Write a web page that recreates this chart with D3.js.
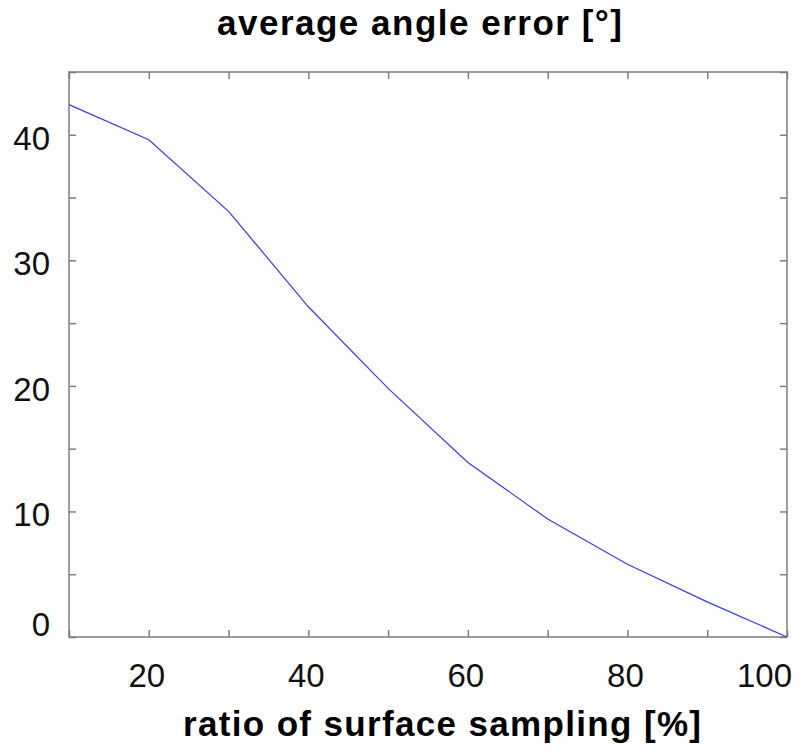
<!DOCTYPE html>
<html><head><meta charset="utf-8">
<script src="https://cdn.jsdelivr.net/npm/d3@7"></script>
<style>body{margin:0;background:#fff}</style>
</head><body>
<svg id="c" width="799" height="756"></svg>
<script>
const ratio = [10, 20, 30, 40, 50, 60, 70, 80, 90, 100];
const angleError = [42.4, 39.6, 33.9, 26.3, 19.8, 13.9, 9.4, 5.8, 2.8, 0.0];
const xTickValues = [10, 20, 30, 40, 50, 60, 70, 80, 90, 100];
const xTickLabels = [20, 40, 60, 80, 100];
const yTickValues = [0, 5, 10, 15, 20, 25, 30, 35, 40, 45];
const yTickLabels = [0, 10, 20, 30, 40];
const title = "average angle error [°]";
const xTitle = "ratio of surface sampling [%]";

const m = {l: 69, r: 12, t: 72, b: 119};
const W = 799, H = 756;
const svg = d3.select("#c");
const x = d3.scaleLinear().domain([10, 100]).range([m.l, W - m.r]);
const y = d3.scaleLinear().domain([0, 45]).range([H - m.b, m.t]);
const font = "'Liberation Sans', Arial, sans-serif";
const axisColor = "#7f7f7f";
const tk = 7;

function styleAxis(g) {
  g.select(".domain").remove();
  g.selectAll(".tick line").attr("stroke", axisColor).attr("stroke-width", 1.5);
  g.selectAll("text").remove();
}
svg.append("g").attr("transform", `translate(0,${y(0)})`)
  .call(d3.axisBottom(x).tickValues(xTickValues).tickSize(-tk)).call(styleAxis);
svg.append("g").attr("transform", `translate(0,${y(45)})`)
  .call(d3.axisTop(x).tickValues(xTickValues).tickSize(-tk)).call(styleAxis);
svg.append("g").attr("transform", `translate(${x(10)},0)`)
  .call(d3.axisLeft(y).tickValues(yTickValues).tickSize(-tk)).call(styleAxis);
svg.append("g").attr("transform", `translate(${x(100)},0)`)
  .call(d3.axisRight(y).tickValues(yTickValues).tickSize(-tk)).call(styleAxis);

svg.append("rect").attr("x", x(10)).attr("y", y(45))
  .attr("width", x(100) - x(10)).attr("height", y(0) - y(45))
  .attr("fill", "none").attr("stroke", axisColor).attr("stroke-width", 1.5);

// tick labels
svg.append("g").selectAll("text").data(xTickLabels).join("text")
  .attr("x", d => d === 100 ? x(d) + 5 : x(d) - 2)
  .attr("y", 687)
  .attr("text-anchor", d => d === 100 ? "end" : "middle")
  .attr("font-family", font).attr("font-size", 33).attr("fill", "#111")
  .text(d => d);
svg.append("g").selectAll("text").data(yTickLabels).join("text")
  .attr("x", 50)
  .attr("y", d => d === 0 ? 636 : y(d) + 15)
  .attr("text-anchor", "end")
  .attr("font-family", font).attr("font-size", 33).attr("fill", "#111")
  .text(d => d);

// line
svg.append("path").datum(ratio.map((r, i) => [r, angleError[i]]))
  .attr("fill", "none").attr("stroke", "#3a3aff").attr("stroke-width", 1.2)
  .attr("d", d3.line().x(d => x(d[0])).y(d => y(d[1])));

svg.append("text").attr("x", 217).attr("y", 35)
  .attr("textLength", 405).attr("lengthAdjust", "spacing")
  .attr("font-family", font).attr("font-weight", "bold").attr("font-size", 35)
  .attr("fill", "#000").text(title);
svg.append("text").attr("x", 183).attr("y", 736)
  .attr("textLength", 518).attr("lengthAdjust", "spacing")
  .attr("font-family", font).attr("font-weight", "bold").attr("font-size", 35)
  .attr("fill", "#000").text(xTitle);
</script>
</body></html>
